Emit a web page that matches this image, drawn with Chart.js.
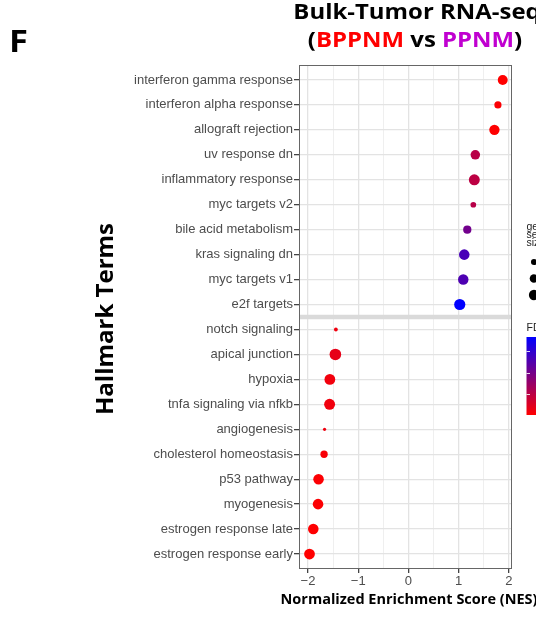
<!DOCTYPE html>
<html>
<head>
<meta charset="utf-8">
<script src="https://cdn.jsdelivr.net/npm/chart.js@4.4.1/dist/chart.umd.min.js"></script>
<style>
  html, body { margin: 0; padding: 0; background: #fff; }
  #wrap { width: 536px; height: 618px; position: relative; }
</style>
</head>
<body>
<div id="wrap"><canvas id="dot-chart"></canvas></div>
<script>
// hallmark terms, top to bottom
const terms = [
  "interferon gamma response", "interferon alpha response", "allograft rejection",
  "uv response dn", "inflammatory response", "myc targets v2", "bile acid metabolism",
  "kras signaling dn", "myc targets v1", "e2f targets",
  "notch signaling", "apical junction", "hypoxia", "tnfa signaling via nfkb",
  "angiogenesis", "cholesterol homeostasis", "p53 pathway", "myogenesis",
  "estrogen response late", "estrogen response early"
];
const nes = [
  1.875, 1.78, 1.71, 1.33, 1.31, 1.29, 1.17, 1.11, 1.09, 1.02,
  -1.445, -1.455, -1.565, -1.57, -1.67, -1.68, -1.79, -1.80, -1.895, -1.97
];
const setSize = [
  139, 68, 153, 126, 175, 45, 91, 160, 158, 183,
  31, 200, 168, 175, 30, 72, 160, 160, 160, 168
];
const fdr = [
  0.001, 0.004, 0.002, 0.052, 0.049, 0.053, 0.102, 0.133, 0.129, 0.184,
  0.012, 0.018, 0.010, 0.011, 0.012, 0.006, 0.003, 0.003, 0.002, 0.001
];
const xGrid = [-2, -1.5, -1, -0.5, 0, 0.5, 1, 1.5, 2];
const sizeBreaks = [50, 100, 150];
const fdrBreaks = [0.05, 0.10, 0.15];
const dividerAt = 9.5; // between up- and down-regulated terms

const sizeMin = Math.min(...setSize), sizeMax = Math.max(...setSize);
const fdrMin = Math.min(...fdr), fdrMax = Math.max(...fdr);

// area scale like ggplot's scale_size
function radiusFor(n) {
  const t = (n - sizeMin) / (sizeMax - sizeMin);
  return 1.6 + 4.2 * Math.sqrt(Math.max(0, t));
}
// low FDR red -> high FDR blue
function colorFor(v) {
  const t = Math.min(1, Math.max(0, (v - fdrMin) / (fdrMax - fdrMin)));
  return `rgb(${Math.round(255 * (1 - t))},0,${Math.round(255 * t)})`;
}

const tickFont = { family: "'Liberation Sans', Arial, sans-serif", size: 13 };
const boldFont = "'Open Sans', sans-serif";

function stretchText(ctx, text, x, y, sx, align) {
  ctx.save();
  ctx.translate(x, y);
  ctx.scale(sx, 1);
  ctx.textAlign = align || "left";
  ctx.fillText(text, 0, 0);
  ctx.restore();
}

const decor = {
  id: "decor",
  afterDraw(chart) {
    const ctx = chart.ctx;
    const a = chart.chartArea;
    ctx.save();

    // panel border
    ctx.strokeStyle = "#666";
    ctx.lineWidth = 1;
    ctx.strokeRect(a.left + 0.5, a.top + 0.5, a.right - a.left - 1, a.bottom - a.top - 1);

    // panel letter
    ctx.fillStyle = "#000";
    ctx.textBaseline = "alphabetic";
    ctx.font = `bold 30px ${boldFont}`;
    stretchText(ctx, "F", 9, 52, 1.15, "left");

    // title, line 1
    const sx = 1.14, cx = 417;
    ctx.font = `bold 21px ${boldFont}`;
    stretchText(ctx, "Bulk-Tumor RNA-seq", cx, 19, sx, "center");

    // title, line 2 in colours
    const parts = [["(", "#000"], ["BPPNM", "#ff0000"], [" vs ", "#000"], ["PPNM", "#c000d0"], [")", "#000"]];
    const total = parts.reduce((s, p) => s + ctx.measureText(p[0]).width, 0) * sx;
    let x = 415 - total / 2;
    parts.forEach(([t, c]) => {
      ctx.fillStyle = c;
      stretchText(ctx, t, x, 47, sx, "left");
      x += ctx.measureText(t).width * sx;
    });

    // axis titles
    ctx.fillStyle = "#000";
    ctx.font = `bold 24px ${boldFont}`;
    ctx.save();
    ctx.translate(113, 319);
    ctx.rotate(-Math.PI / 2);
    ctx.textAlign = "center";
    ctx.fillText("Hallmark Terms", 0, 0);
    ctx.restore();

    ctx.font = `bold 14.5px ${boldFont}`;
    ctx.textAlign = "center";
    ctx.fillText("Normalized Enrichment Score (NES)", 409, 604);

    // size legend
    const lx = 526.5;
    ctx.textAlign = "left";
    ctx.fillStyle = "#222";
    ctx.font = "10.5px 'Liberation Sans', Arial, sans-serif";
    ["gene", "set", "size"].forEach((t, i) => ctx.fillText(t, lx, 229.5 + i * 8));
    ctx.fillStyle = "#000";
    sizeBreaks.forEach((n, i) => {
      ctx.beginPath();
      ctx.arc(534, 262 + i * 16.5, radiusFor(n), 0, Math.PI * 2);
      ctx.fill();
    });

    // FDR colour bar
    ctx.fillStyle = "#222";
    ctx.fillText("FDR", lx, 331);
    const barTop = 337, barBottom = 415;
    for (let y = barTop; y < barBottom; y++) {
      const v = fdrMax - (y + 0.5 - barTop) / (barBottom - barTop) * (fdrMax - fdrMin);
      ctx.fillStyle = colorFor(v);
      ctx.fillRect(lx, y, 18, 1);
    }
    ctx.strokeStyle = "rgba(255,255,255,0.85)";
    ctx.lineWidth = 1;
    fdrBreaks.forEach(v => {
      const y = barBottom - (v - fdrMin) / (fdrMax - fdrMin) * (barBottom - barTop);
      ctx.beginPath();
      ctx.moveTo(lx, Math.round(y) + 0.5);
      ctx.lineTo(lx + 3.5, Math.round(y) + 0.5);
      ctx.stroke();
    });

    ctx.restore();
  }
};

const isMajor = v => Math.abs(v - Math.round(v)) < 1e-9;

new Chart(document.getElementById("dot-chart"), {
  type: "scatter",
  data: {
    datasets: [
      {
        data: [{ x: -5, y: dividerAt }, { x: 5, y: dividerAt }],
        showLine: true,
        borderColor: "#dadada",
        borderWidth: 4.5,
        pointRadius: 0,
        clip: 0,
      },
      {
        data: nes.map((v, i) => ({ x: v, y: i })),
        pointRadius: ctx => radiusFor(setSize[ctx.dataIndex]),
        pointHoverRadius: ctx => radiusFor(setSize[ctx.dataIndex]),
        pointBackgroundColor: fdr.map(colorFor),
        pointBorderWidth: 0,
        showLine: false,
      },
    ],
  },
  options: {
    responsive: true,
    maintainAspectRatio: false,
    animation: false,
    layout: { padding: { top: 65, right: 24, bottom: 0, left: 0 } },
    plugins: { legend: { display: false }, tooltip: { enabled: false } },
    scales: {
      x: {
        type: "linear",
        min: -2.179,
        max: 2.06,
        afterBuildTicks: s => { s.ticks = xGrid.map(v => ({ value: v })); },
        afterFit: s => { s.height = 49; },
        border: { display: false },
        grid: {
          color: c => isMajor(c.tick.value) ? "#e3e3e3" : "#ededed",
          lineWidth: c => isMajor(c.tick.value) ? 1.3 : 0.9,
          tickLength: 4,
          tickColor: c => isMajor(c.tick.value) ? "#444" : "rgba(0,0,0,0)",
        },
        ticks: {
          autoSkip: false,
          maxRotation: 0,
          padding: 1,
          color: "#4d4d4d",
          font: tickFont,
          callback: v => isMajor(v) ? String(Math.round(v)).replace("-", "\u2212") : "",
        },
      },
      y: {
        type: "linear",
        reverse: true,
        min: -0.6,
        max: terms.length - 0.4,
        afterBuildTicks: s => { s.ticks = terms.map((t, i) => ({ value: i })); },
        afterFit: s => { s.width = 299; },
        border: { display: false },
        grid: { color: "#e3e3e3", lineWidth: 1.3, tickLength: 5, tickColor: "#444" },
        ticks: {
          autoSkip: false,
          padding: 1,
          color: "#4d4d4d",
          font: tickFont,
          callback: v => terms[v],
        },
      },
    },
  },
  plugins: [decor],
});
</script>
</body>
</html>
